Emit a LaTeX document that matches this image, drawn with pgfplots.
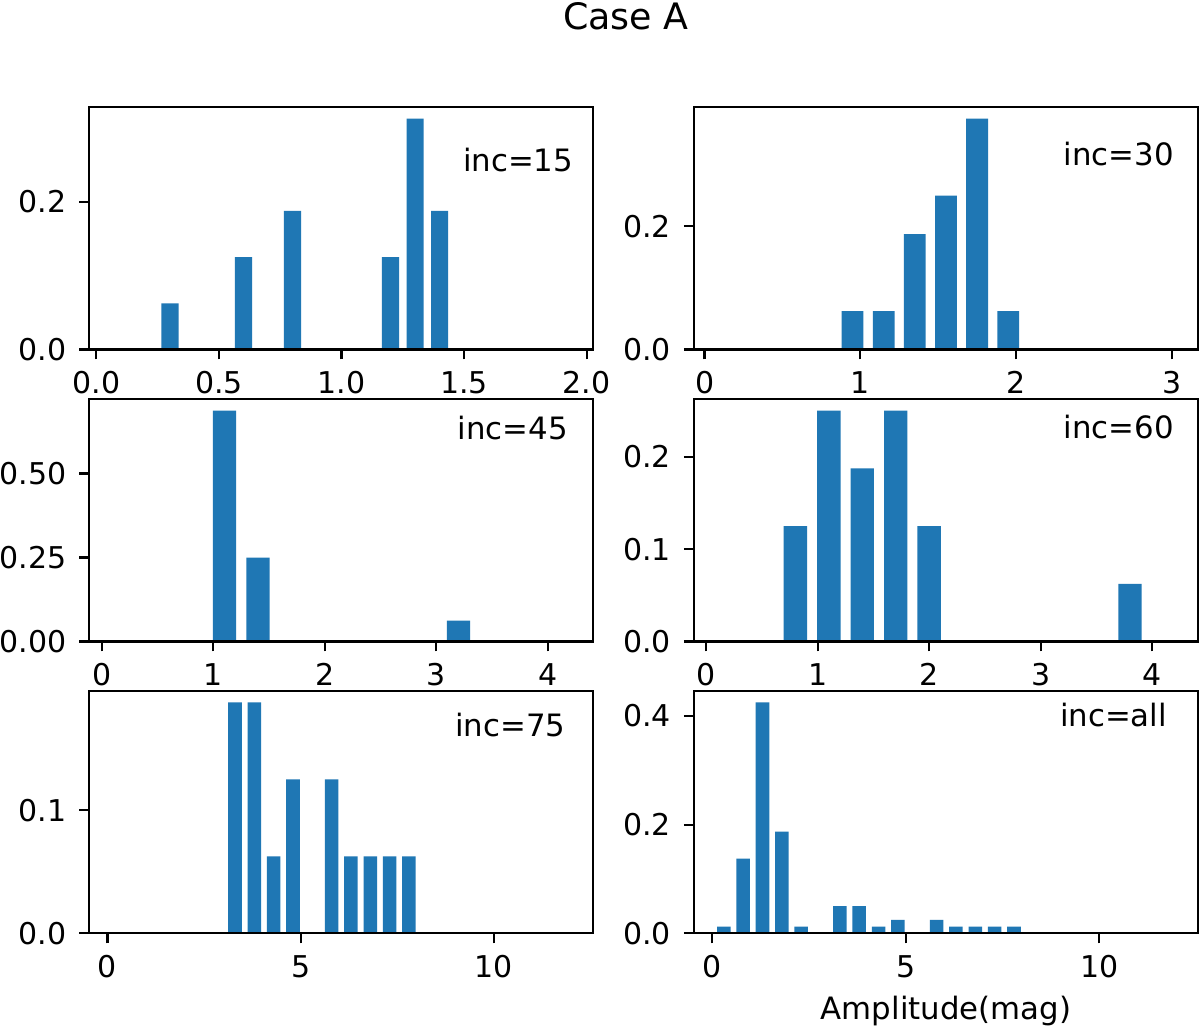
\documentclass[border=0pt]{standalone}
\usepackage{fontspec}
\setmainfont{DejaVu Sans}
\usepackage{pgfplots}
\pgfplotsset{compat=1.18}
\definecolor{tabblue}{HTML}{1F77B4}
\pgfplotsset{
  panel/.style={
    scale only axis, width=252pt, height=121.25pt,
    anchor=south west,
    axis line style={line width=1.08pt},
    every tick/.style={black, line width=1.08pt},
    tick align=outside, major tick length=5pt,
    xtick pos=left, ytick pos=left,
    ymin=0,
    ybar, bar shift=0pt,
    axis background/.style={fill=white},
    tick label style={font=\fontsize{15}{18}\selectfont},
    xticklabel style={yshift=-2.5pt},
    yticklabel style={xshift=-3pt},
    /pgf/number format/assume math mode=true,
    enlargelimits=false,
    axis on top,
  },
  barstyle/.style={fill=tabblue, draw=none},
}
\begin{document}
\begin{tikzpicture}
\path[use as bounding box] (0,0) rectangle (600pt,514.5pt);
% inc=15
\begin{axis}[panel, at={(44.65pt,339.75pt)},
  xmin=-0.029, xmax=2.027, ymax=0.328125, bar width=0.07,
  xtick={0,0.5,1,1.5,2}, xticklabels={0.0,0.5,1.0,1.5,2.0},
  ytick={0,0.2}, yticklabels={0.0,0.2}]
\addplot[barstyle] coordinates {(0.3,0.0625)(0.6,0.125)(0.8,0.1875)(1.2,0.125)(1.3,0.3125)(1.4,0.1875)};
\end{axis}
% inc=30
\begin{axis}[panel, at={(346.9pt,339.75pt)},
  xmin=-0.069, xmax=3.167, ymax=0.39375, bar width=0.14,
  xtick={0,1,2,3}, xticklabels={0,1,2,3},
  ytick={0,0.2}, yticklabels={0.0,0.2}]
\addplot[barstyle] coordinates {(0.95,0.0625)(1.15,0.0625)(1.35,0.1875)(1.55,0.25)(1.75,0.375)(1.95,0.0625)};
\end{axis}
% inc=45
\begin{axis}[panel, at={(44.65pt,193.75pt)},
  xmin=-0.114, xmax=4.41, ymax=0.721875, bar width=0.21,
  xtick={0,1,2,3,4}, xticklabels={0,1,2,3,4},
  ytick={0,0.25,0.5}, yticklabels={0.00,0.25,0.50}]
\addplot[barstyle] coordinates {(1.1,0.6875)(1.4,0.25)(3.2,0.0625)};
\end{axis}
% inc=60
\begin{axis}[panel, at={(346.9pt,193.75pt)},
  xmin=-0.11, xmax=4.408, ymax=0.2625, bar width=0.21,
  xtick={0,1,2,3,4}, xticklabels={0,1,2,3,4},
  ytick={0,0.1,0.2}, yticklabels={0.0,0.1,0.2}]
\addplot[barstyle] coordinates {(0.8,0.125)(1.1,0.25)(1.4,0.1875)(1.7,0.25)(2.0,0.125)(3.8,0.0625)};
\end{axis}
% inc=75
\begin{axis}[panel, at={(44.65pt,47.8pt)},
  xmin=-0.47, xmax=12.57, ymax=0.196875, bar width=0.35,
  xtick={0,5,10}, xticklabels={0,5,10},
  ytick={0,0.1}, yticklabels={0.0,0.1}]
\addplot[barstyle] coordinates {(3.3,0.1875)(3.8,0.1875)(4.3,0.0625)(4.8,0.125)(5.8,0.125)(6.3,0.0625)(6.8,0.0625)(7.3,0.0625)(7.8,0.0625)};
\end{axis}
% inc=all
\begin{axis}[panel, at={(346.9pt,47.8pt)},
  xmin=-0.475, xmax=12.55, ymax=0.44625, bar width=0.35,
  xtick={0,5,10}, xticklabels={0,5,10},
  ytick={0,0.2,0.4}, yticklabels={0.0,0.2,0.4}]
\addplot[barstyle] coordinates {(0.3,0.0125)(0.8,0.1375)(1.3,0.425)(1.8,0.1875)(2.3,0.0125)(3.3,0.05)(3.8,0.05)(4.3,0.0125)(4.8,0.025)(5.8,0.025)(6.3,0.0125)(6.8,0.0125)(7.3,0.0125)(7.8,0.0125)};
\end{axis}
\begin{scope}[every node/.style={inner sep=0pt, font=\fontsize{15.4}{18}\selectfont}]
\node[anchor=base east] at (286.75pt,428.65pt) {inc=15};
\node[anchor=base east] at (587pt,431.5pt) {inc=30};
\node[anchor=base east] at (284.15pt,294.5pt) {inc=45};
\node[anchor=base east] at (587pt,295.35pt) {inc=60};
\node[anchor=base east] at (282.8pt,146.15pt) {inc=75};
\node[anchor=base east] at (583.6pt,151.15pt) {inc=all};
\node[anchor=base] at (473pt,5pt) {Amplitude(mag)};
\node[anchor=base, font=\fontsize{18.2}{22}\selectfont] at (313pt,499.85pt) {Case A};
\end{scope}
\end{tikzpicture}
\end{document}
